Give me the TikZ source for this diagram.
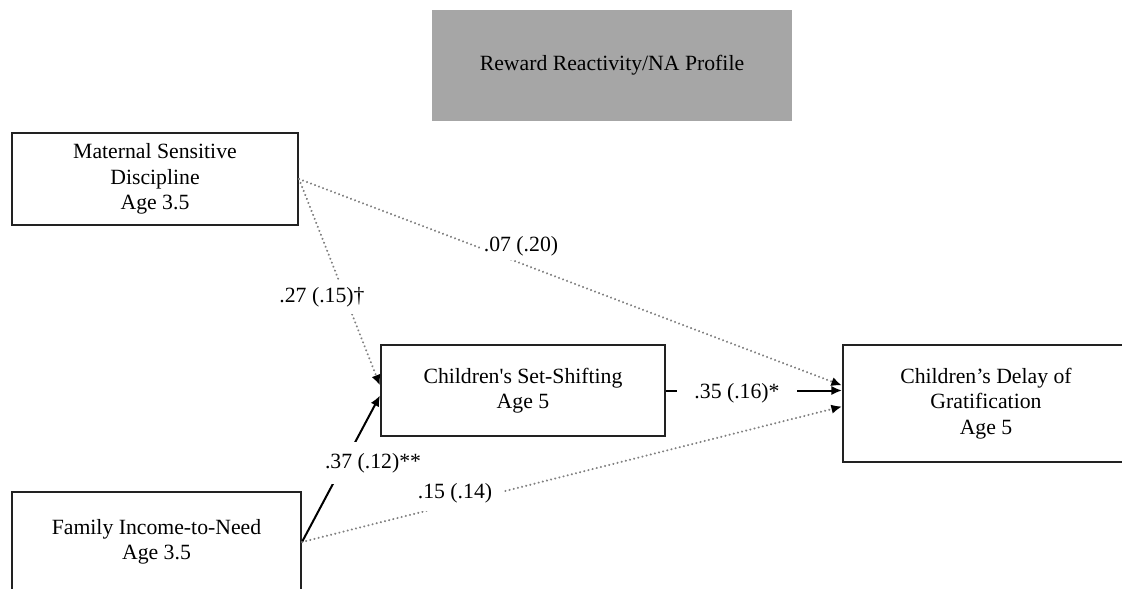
\documentclass[tikz,border=0pt]{standalone}
\usepackage{fontspec}
\setmainfont{Liberation Serif}
\usetikzlibrary{arrows.meta,calc}
\definecolor{profilegray}{HTML}{A6A6A6}
\definecolor{boxline}{HTML}{222222}
\definecolor{dotgray}{HTML}{808080}
\begin{document}
\begin{tikzpicture}[x=0.75pt,y=-0.75pt,
  every node/.style={font=\fontsize{16.3}{19}\selectfont},
  box/.style={draw=boxline, line width=1.5pt, align=center, inner sep=0pt},
  tipstyle/.style={-{Latex[color=black,length=8pt,width=7pt]}},
  dotline/.style={draw=dotgray, line width=1.7pt, line cap=round, dash pattern=on 0.01pt off 3.2pt, tipstyle},
  solidline/.style={draw=black, line width=1.5pt, tipstyle},
  lbl/.style={fill=white, inner sep=2pt}]
\useasboundingbox (0,0) rectangle (1122,589);
\clip (0,0) rectangle (1122,589);
\fill[white] (0,0) rectangle (1122,589);

% boxes
\node[fill=profilegray, minimum width=270pt, minimum height=83.25pt, inner sep=0pt] (reward) at (612,65.5) {Reward Reactivity/NA Profile};
\node[box, minimum width=214.5pt, minimum height=69pt] (maternal) at (155,179) {Maternal Sensitive\\Discipline\\Age 3.5};
\node[box, minimum width=213pt, minimum height=68.25pt] (setshift) at (523,390.5) {Children\textquotesingle s Set-Shifting\\Age 5};
\node[box, minimum width=214.5pt, minimum height=87.75pt] (delay) at (986,403.5) {Children’s Delay of\\Gratification\\Age 5};
\node[box, minimum width=216.75pt, minimum height=75pt] (family) at (156.5,542) {Family Income-to-Need\\Age 3.5};

% connectors
\draw[dotline] (maternal.east) -- ($(setshift.west)+(0,-5)$);
\draw[dotline] (maternal.east) -- ($(delay.west)+(0,-18)$);
\draw[solidline] (family.east) -- ($(setshift.west)+(0,5)$);
\draw[dotline] (family.east) -- ($(delay.west)+(0,3)$);
\draw[solidline] (setshift.east) -- ($(delay.west)+(0,-13)$);

% labels
\node[lbl, inner sep=3pt] (l07) at (521,246) {.07 (.20)};
\node[lbl, inner ysep=5pt] (l27) at (322,297) {.27 (.15)†};
\node[lbl, inner xsep=13pt] (l35) at (737,393) {.35 (.16)*};
\node[lbl, inner ysep=8pt] (l37) at (373,463) {.37 (.12)**};
\node[lbl, inner xsep=8pt, inner ysep=6pt] (l15) at (455,493) {.15 (.14)};
\end{tikzpicture}
\end{document}
